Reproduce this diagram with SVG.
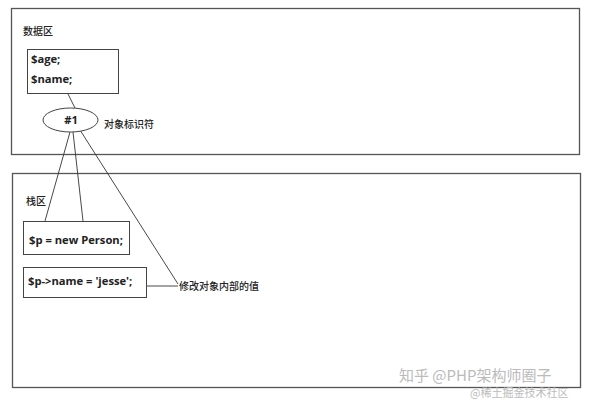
<svg xmlns="http://www.w3.org/2000/svg" width="591" height="405" viewBox="0 0 591 405">
<style>
.frame{fill:none;stroke:#555;stroke-width:1.3}
.box{fill:#fff;stroke:#444;stroke-width:1}
.ln{fill:none;stroke:#333;stroke-width:0.9}
.cn{font-family:"Noto Sans CJK SC","Noto Sans",sans-serif;font-size:10px;font-weight:500;fill:#222}
.code{font-family:"Open Sans","DejaVu Sans",sans-serif;font-size:11.2px;font-weight:bold;fill:#222}
.wm{font-family:"Noto Sans CJK SC",sans-serif;fill:#bbb}
</style>
<rect width="591" height="405" fill="#fff"/>
<g id="data-area">
<rect class="frame" x="11.5" y="8.5" width="568" height="146"/>
<text class="cn" x="23" y="35">数据区</text>
</g>
<g id="stack-area">
<rect class="frame" x="12.5" y="173.5" width="568" height="214"/>
<text class="cn" x="26" y="205">栈区</text>
</g>
<g id="connectors">
<line class="ln" x1="68" y1="94" x2="75" y2="108"/>
<line class="ln" x1="70" y1="132" x2="45" y2="221"/>
<line class="ln" x1="73" y1="132" x2="83" y2="221"/>
<line class="ln" x1="80" y1="130" x2="178" y2="284"/>
<line class="ln" x1="147" y1="286" x2="178" y2="286"/>
</g>
<g id="vars">
<rect class="box" x="27.5" y="49.5" width="91" height="44"/>
<text class="code" x="31" y="63">$age;</text>
<text class="code" x="31" y="83">$name;</text>
</g>
<g id="id1">
<ellipse class="box" cx="70.5" cy="120" rx="27.5" ry="12"/>
<text class="code" x="71" y="124" text-anchor="middle">#1</text>
<text class="cn" x="104" y="128">对象标识符</text>
</g>
<g id="new-person">
<rect class="box" x="23.5" y="221.5" width="106" height="33"/>
<text class="code" x="29" y="244">$p = new Person;</text>
</g>
<g id="assign">
<rect class="box" x="23.5" y="267.5" width="123" height="30"/>
<text class="code" x="28" y="285">$p-&gt;name = 'jesse';</text>
</g>
<g id="modify-label">
<text class="cn" x="179" y="290">修改对象内部的值</text>
</g>
<g id="watermark">
<text class="wm" x="399" y="381" font-size="15">知乎 @PHP架构师圈子</text>
<text class="wm" x="470" y="397" font-size="11" fill="#999">@稀土掘金技术社区</text>
</g>
</svg>
